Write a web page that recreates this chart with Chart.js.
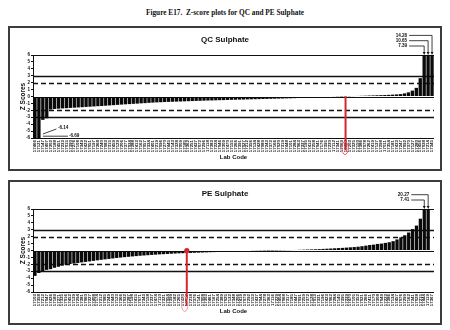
<!DOCTYPE html>
<html>
<head>
<meta charset="utf-8">
<script src="https://cdn.jsdelivr.net/npm/chart.js@4/dist/chart.umd.min.js"></script>
<style>
  html, body { margin: 0; padding: 0; background: #fff; }
  body { width: 450px; height: 330px; position: relative; overflow: hidden; }
  #heading {
    position: absolute; left: 0; top: 8px; width: 450px; text-align: center;
    font: bold 7.3px "Liberation Serif", "Times New Roman", serif; white-space: pre; color: #111;
  }
  .panel {
    position: absolute; left: 8px; width: 434px; height: 145px;
    box-sizing: border-box; border: 2px solid #3c3c3c; background: #fff;
  }
  .panel canvas { position: absolute; left: 0; top: 0; }
</style>
</head>
<body>
<div id="heading">Figure E17.  Z-score plots for QC and PE Sulphate</div>
<div class="panel" style="top:26px"><canvas id="qcChart" width="430" height="141"></canvas></div>
<div class="panel" style="top:180px"><canvas id="peChart" width="430" height="141"></canvas></div>

<script>
// ---- QC Sulphate: lab codes and z-scores, sorted by score ----
const qcLabs = [
  '17466','17121','17147','17407','17302','17188','17451','17233','17015','17390',
  '17276','17108','17349','17422','17051','17197','17368','17240','17083','17315',
  '17459','17129','17206','17377','17034','17288','17413','17162','17057','17334',
  '17401','17219','17096','17270','17445','17143','17328','17009','17185','17362',
  '17251','17437','17072','17296','17118','17383','17224','17046','17309','17470',
  '17155','17266','17391','17027','17212','17356','17134','17428','17089','17243',
  '17372','17166','17020','17319','17448','17101','17284','17063','17337','17195',
  '17412','17258','17041','17176','17395','17230','17112','17341','17069','17463',
  '17203','17325','17150','17386','17078','17262','17419','17137','17298','17011',
  '17354','17181','17433','17247','17092','17370','17127','17280','17456','17038',
  '17214','17345'
];
const qcScores = [
  -6.69,-6.14,-3.38,-3.15,-1.88,-1.80,-1.76,-1.72,-1.69,-1.65,
  -1.62,-1.58,-1.55,-1.51,-1.48,-1.44,-1.40,-1.37,-1.33,-1.29,
  -1.25,-1.21,-1.17,-1.13,-1.10,-1.06,-1.03,-0.99,-0.96,-0.92,
  -0.88,-0.85,-0.83,-0.80,-0.78,-0.76,-0.74,-0.72,-0.70,-0.68,
  -0.66,-0.64,-0.62,-0.60,-0.58,-0.57,-0.55,-0.53,-0.52,-0.50,
  -0.48,-0.47,-0.45,-0.44,-0.42,-0.41,-0.39,-0.38,-0.36,-0.35,
  -0.33,-0.32,-0.30,-0.29,-0.27,-0.26,-0.24,-0.22,-0.21,-0.19,
  -0.17,-0.15,-0.14,-0.12,-0.10,-0.08,-0.06,-0.04,-0.02,0.02,
  0.04,0.06,0.08,0.10,0.12,0.14,0.16,0.18,0.20,0.22,
  0.24,0.27,0.30,0.35,0.45,0.60,0.85,1.25,2.65,7.39,
  10.65,14.28
];
const qcMarkedLab = '17463';

// ---- PE Sulphate: lab codes and z-scores, sorted by score ----
const peLabs = [
  '17103','17358','17212','17047','17426','17189','17271','17335','17016','17452',
  '17139','17294','17381','17060','17227','17408','17174','17312','17085','17249',
  '17440','17123','17366','17032','17287','17198','17415','17071','17343','17158',
  '17237','17474','17110','17321','17054','17399','17182','17265','17430','17097',
  '17218','17376','17141','17008','17303','17461','17167','17254','17389','17025',
  '17132','17348','17206','17419','17079','17292','17153','17437','17044','17278',
  '17363','17116','17229','17404','17068','17317','17185','17447','17091','17259',
  '17372','17128','17013','17331','17196','17423','17062','17284','17145','17395',
  '17239','17470','17105','17352','17021','17266','17411','17170','17308','17049',
  '17223','17386','17134','17457','17076','17299','17162','17341','17028','17215',
  '17444','17119','17367'
];
const peScores = [
  -3.67,-3.25,-3.00,-2.80,-2.70,-2.50,-2.35,-2.20,-2.05,-1.95,
  -1.88,-1.80,-1.72,-1.65,-1.58,-1.50,-1.42,-1.35,-1.28,-1.22,
  -1.15,-1.08,-1.02,-0.96,-0.91,-0.86,-0.81,-0.76,-0.72,-0.68,
  -0.64,-0.60,-0.56,-0.53,-0.50,-0.47,-0.44,-0.41,-0.39,-0.37,
  -0.35,-0.33,-0.31,-0.29,-0.27,-0.25,-0.23,-0.21,-0.19,-0.17,
  -0.15,-0.13,-0.12,-0.10,-0.08,-0.07,-0.05,-0.04,-0.03,-0.02,
  -0.01,0.01,0.02,0.03,0.04,0.05,0.06,0.08,0.10,0.12,
  0.14,0.16,0.18,0.20,0.23,0.26,0.29,0.32,0.35,0.38,
  0.42,0.46,0.50,0.55,0.62,0.70,0.80,0.85,0.95,1.00,
  1.10,1.20,1.35,1.60,1.90,2.20,2.60,3.10,3.60,4.60,
  7.41,20.27
];
const peMarkedLab = '17097';

// ---- axis range and control limits ----
const zMin = -6;
const zMax = 6;
const warningLimits = [-2, 2];
const actionLimits = [-3, 3];

// Horizontal control-limit lines behind the bars
const limitLines = {
  id: 'limitLines',
  beforeDatasetsDraw(chart) {
    const { ctx, chartArea: a, scales: { y } } = chart;
    ctx.save();
    ctx.strokeStyle = '#111';
    const hline = (v, w, dash) => {
      const py = Math.round(y.getPixelForValue(v)) + 0.5;
      ctx.lineWidth = w;
      ctx.setLineDash(dash);
      ctx.beginPath();
      ctx.moveTo(a.left, py);
      ctx.lineTo(a.right, py);
      ctx.stroke();
    };
    hline(zMax, 1, []);
    hline(zMin, 1, []);
    hline(0, 1, []);
    actionLimits.forEach(v => hline(v, 1.5, []));
    warningLimits.forEach(v => hline(v, 1.5, [5, 3]));
    ctx.restore();
  }
};

// Value callouts for bars running past the axis range
const offScaleCallouts = {
  id: 'offScaleCallouts',
  afterDatasetsDraw(chart) {
    const { ctx, chartArea: a } = chart;
    const scores = chart.data.datasets[0].data;
    const bars = chart.getDatasetMeta(0).data;
    const textGap = chart.options.plugins.offScaleCallouts.textGap;
    ctx.save();
    ctx.fillStyle = '#111';
    ctx.strokeStyle = '#111';
    ctx.lineWidth = 0.8;
    ctx.font = 'bold 4.6px "Liberation Sans", Arial, sans-serif';
    ctx.textBaseline = 'middle';

    // above the top: largest value on the highest row
    const highs = scores.map((v, i) => i).filter(i => scores[i] > zMax);
    if (highs.length) {
      const textRight = bars[highs[0]].x - textGap;
      highs.forEach((i, rank) => {
        const ty = a.top - 9 - 5.3 * rank;
        const bx = bars[i].x;
        ctx.textAlign = 'right';
        ctx.fillText(scores[i].toFixed(2), textRight, ty);
        ctx.beginPath();
        ctx.moveTo(textRight + 2, ty);
        ctx.lineTo(bx, ty);
        ctx.lineTo(bx, a.top - 2);
        ctx.stroke();
        ctx.beginPath();
        ctx.moveTo(bx - 1.4, a.top - 3);
        ctx.lineTo(bx + 1.4, a.top - 3);
        ctx.lineTo(bx, a.top);
        ctx.closePath();
        ctx.fill();
      });
    }

    // below the bottom: most negative value on the lowest row
    const lows = scores.map((v, i) => i).filter(i => scores[i] < zMin).reverse();
    if (lows.length) {
      const anchorX = bars[lows[0]].x + 4;
      lows.forEach((i, rank) => {
        const tx = anchorX + 15 + 11 * rank;
        const ty = a.bottom - 10 + 7.5 * rank;
        ctx.textAlign = 'left';
        ctx.fillText(scores[i].toFixed(2), tx, ty);
        ctx.beginPath();
        if (rank === 0) {
          ctx.moveTo(tx - 1.5, ty + 1);
          ctx.lineTo(anchorX, a.bottom - 4);
        } else {
          ctx.moveTo(tx - 1, ty + 0.7);
          ctx.lineTo(anchorX, ty + 0.7);
        }
        ctx.stroke();
      });
    }
    ctx.restore();
  }
};

// Red marker picking out one laboratory
const labMarker = {
  id: 'labMarker',
  afterDraw(chart) {
    const opts = chart.options.plugins.labMarker;
    const idx = chart.data.labels.indexOf(opts.lab);
    if (idx < 0) return;
    const { ctx, chartArea: a, scales: { y } } = chart;
    const x = chart.getDatasetMeta(0).data[idx].x;
    const y0 = y.getPixelForValue(0);
    ctx.save();
    ctx.strokeStyle = '#d6262b';
    ctx.lineWidth = 2;
    ctx.beginPath();
    ctx.moveTo(x, y0);
    ctx.lineTo(x, a.bottom + opts.tail);
    ctx.stroke();
    if (opts.dot) {
      ctx.fillStyle = '#d6262b';
      ctx.beginPath();
      ctx.arc(x, y0, 2.6, 0, Math.PI * 2);
      ctx.fill();
    }
    ctx.strokeStyle = opts.ringColor;
    ctx.lineWidth = 1;
    ctx.beginPath();
    ctx.ellipse(x + opts.ringDx, a.bottom + opts.ringDy, 3.2, opts.ringRy, 0, 0, Math.PI * 2);
    ctx.stroke();
    ctx.restore();
  }
};

function zScoreChart(canvasId, title, labs, scores, marker, textGap) {
  return new Chart(document.getElementById(canvasId), {
    type: 'bar',
    data: {
      labels: labs,
      datasets: [{
        data: scores,
        backgroundColor: '#0a0a0a',
        borderWidth: 0,
        barPercentage: 0.85,
        categoryPercentage: 1.0
      }]
    },
    options: {
      responsive: false,
      animation: false,
      devicePixelRatio: 1,
      layout: { padding: { left: 6, right: 6, top: 0, bottom: 0 } },
      plugins: {
        legend: { display: false },
        tooltip: { enabled: false },
        title: {
          display: true,
          text: title,
          color: '#111',
          font: { family: '"Liberation Sans", Arial, sans-serif', size: 8, weight: 'bold' },
          padding: { top: 7, bottom: 10.4 }
        },
        offScaleCallouts: { textGap: textGap },
        labMarker: marker
      },
      scales: {
        x: {
          type: 'category',
          grid: { display: false, drawTicks: false },
          border: { display: false },
          ticks: {
            autoSkip: false,
            minRotation: 90,
            maxRotation: 90,
            padding: 2,
            color: '#111',
            font: { family: '"Liberation Sans", Arial, sans-serif', size: 4.4, weight: 'bold' }
          },
          title: {
            display: true,
            text: 'Lab Code',
            color: '#111',
            font: { family: '"Liberation Sans", Arial, sans-serif', size: 6, weight: 'bold' },
            padding: { top: 0, bottom: 8.4 }
          },
          afterFit(scale) { scale.height = 31; }
        },
        y: {
          min: zMin,
          max: zMax,
          grid: { drawOnChartArea: false, tickLength: 2, color: '#111' },
          border: { display: true, color: '#111', width: 1 },
          ticks: {
            stepSize: 1,
            autoSkip: false,
            padding: 1,
            color: '#111',
            font: { family: '"Liberation Sans", Arial, sans-serif', size: 4.5, weight: 'bold' }
          },
          title: {
            display: true,
            text: 'Z Scores',
            color: '#111',
            font: { family: '"Liberation Sans", Arial, sans-serif', size: 6.5, weight: 'bold' },
            padding: { top: 3, bottom: 0 }
          },
          afterFit(scale) { scale.width = 17; }
        }
      }
    },
    plugins: [limitLines, offScaleCallouts, labMarker]
  });
}

zScoreChart('qcChart', 'QC Sulphate', qcLabs, qcScores,
  { lab: qcMarkedLab, tail: 12, dot: false, ringColor: '#e0607a', ringDx: -0.5, ringDy: 10, ringRy: 6.5 }, 17);
zScoreChart('peChart', 'PE Sulphate', peLabs, peScores,
  { lab: peMarkedLab, tail: 14, dot: true, ringColor: '#e8a0b4', ringDx: -2, ringDy: 12, ringRy: 7.5 }, 15);
</script>
</body>
</html>
